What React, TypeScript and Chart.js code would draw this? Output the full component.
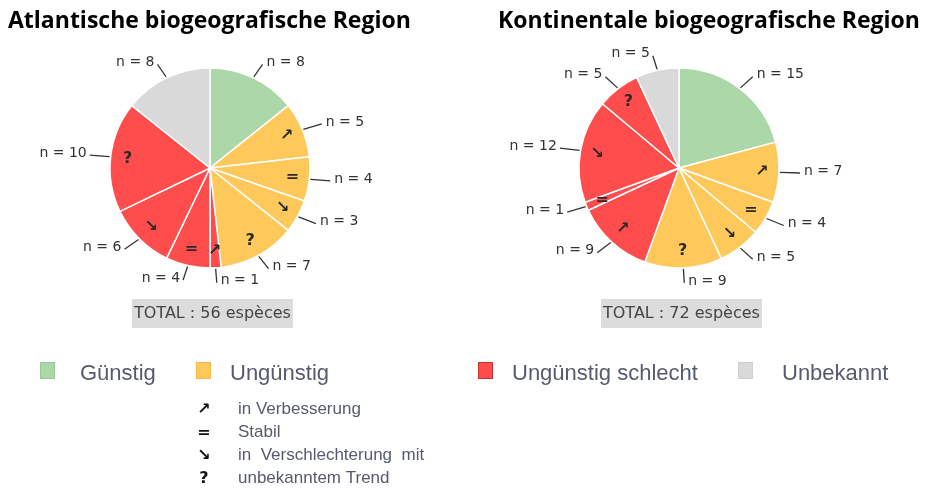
import React, { useEffect, useRef } from 'react';
import { Chart, registerables } from 'chart.js';
Chart.register(...registerables);

const W = 926;
const H = 490;

const sliceStatus = ['Günstig', 'Ungünstig', 'Ungünstig', 'Ungünstig', 'Ungünstig', 'Ungünstig schlecht', 'Ungünstig schlecht', 'Ungünstig schlecht', 'Ungünstig schlecht', 'Unbekannt'];
const sliceTrend = ['', '↗', '=', '↘', '?', '↗', '=', '↘', '?', ''];
const atlantischValues = [8, 5, 4, 3, 7, 1, 4, 6, 10, 8];
const kontinentalValues = [15, 7, 4, 5, 9, 9, 1, 12, 5, 5];
const legendLabels = ['Günstig', 'Ungünstig', 'Ungünstig schlecht', 'Unbekannt'];
const legendColors = ['#acd7a8', '#ffc85a', '#ff4c4c', '#d9d9d9'];
const legendBorders = ['#97c993', '#f3b94a', '#c83030', '#cfcfcf'];
const trendSymbols = ['↗', '=', '↘', '?'];
const trendTexts = ['in Verbesserung', 'Stabil', 'in  Verschlechterung  mit', 'unbekanntem Trend'];
const regionTitles = ['Atlantische biogeografische Region', 'Kontinentale biogeografische Region'];

const colorOf = (s: string) => legendColors[legendLabels.indexOf(s)];

function makePlugin(title: string, titleX: number, withLegend: boolean) {
  return {
    id: 'custom-' + titleX,
    afterDraw(chart: any) {
      const ctx: CanvasRenderingContext2D = chart.ctx;
      const meta = chart.getDatasetMeta(0);
      const values: number[] = chart.data.datasets[0].data;
      ctx.save();
      let cx = 0;
      meta.data.forEach((arc: any, i: number) => {
        const { x, y, startAngle, endAngle, outerRadius } = arc.getProps(['x', 'y', 'startAngle', 'endAngle', 'outerRadius'], true);
        cx = x;
        const mid = (startAngle + endAngle) / 2;
        const c = Math.cos(mid);
        const s = Math.sin(mid);
        if (sliceTrend[i]) {
          ctx.fillStyle = '#2a2a2a';
          ctx.font = 'bold 16px "DejaVu Sans"';
          ctx.textAlign = 'center';
          ctx.textBaseline = 'middle';
          ctx.fillText(sliceTrend[i], x + c * outerRadius * 0.83, y + s * outerRadius * 0.83);
        }
        const sx = x + c * (outerRadius + 1);
        const sy = y + s * (outerRadius + 1);
        const ex = x + c * (outerRadius + 21);
        const ey = y + s * (outerRadius + 15);
        ctx.strokeStyle = '#333';
        ctx.lineWidth = 1.3;
        ctx.beginPath();
        ctx.moveTo(sx, sy);
        ctx.lineTo(ex, ey);
        ctx.stroke();
        ctx.fillStyle = '#333';
        ctx.font = '14px "DejaVu Sans"';
        ctx.textBaseline = 'middle';
        if (c >= 0) {
          ctx.textAlign = 'left';
          ctx.fillText('n = ' + values[i], ex + 4, ey - 2);
        } else {
          ctx.textAlign = 'right';
          ctx.fillText('n = ' + values[i], ex - 3, ey - 2);
        }
      });
      ctx.fillStyle = '#000';
      ctx.font = 'bold 23px "Open Sans"';
      ctx.textAlign = 'left';
      ctx.textBaseline = 'alphabetic';
      ctx.fillText(title, titleX, 28);
      const total = values.reduce((a, b) => a + b, 0);
      const totalText = 'TOTAL : ' + total + ' espèces';
      ctx.font = '16px "DejaVu Sans"';
      const tw = ctx.measureText(totalText).width;
      ctx.fillStyle = '#dcdcdc';
      ctx.fillRect(cx - 78, 299, tw + 4, 29);
      ctx.fillStyle = '#444';
      ctx.textBaseline = 'middle';
      ctx.fillText(totalText, cx - 76, 314);

      if (withLegend) {
        const sqX = [40, 196, 478, 738];
        const txX = [80, 230, 512, 782];
        legendLabels.forEach((lab, i) => {
          ctx.fillStyle = legendColors[i];
          ctx.fillRect(sqX[i], 362, 15, 17);
          ctx.strokeStyle = legendBorders[i];
          ctx.lineWidth = 1;
          ctx.strokeRect(sqX[i] + 0.5, 362.5, 14, 16);
          ctx.fillStyle = '#555a70';
          ctx.font = '22px "Liberation Sans"';
          ctx.textAlign = 'left';
          ctx.textBaseline = 'alphabetic';
          ctx.fillText(lab, txX[i], 380);
        });
        trendTexts.forEach((t, i) => {
          const by = 414 + i * 23;
          ctx.fillStyle = '#111';
          ctx.font = 'bold 16px "DejaVu Sans"';
          ctx.textAlign = 'center';
          ctx.textBaseline = 'alphabetic';
          ctx.fillText(trendSymbols[i], 204, by);
          ctx.fillStyle = '#555a70';
          ctx.font = '17px "Liberation Sans"';
          ctx.textAlign = 'left';
          ctx.fillText(t, 238, by);
        });
      }
      ctx.restore();
    },
  };
}

function makeConfig(values: number[], cx: number, title: string, titleX: number, withLegend: boolean): any {
  const half = 100.75;
  return {
    type: 'pie',
    data: {
      labels: sliceStatus.map((s, i) => s + (sliceTrend[i] ? ' ' + sliceTrend[i] : '')),
      datasets: [
        {
          data: values,
          backgroundColor: sliceStatus.map(colorOf),
          borderColor: '#ffffff',
          borderWidth: 1.5,
        },
      ],
    },
    options: {
      responsive: false,
      animation: false,
      layout: {
        padding: { left: cx - half, right: W - cx - half, top: 168 - half, bottom: H - 168 - half },
      },
      plugins: { legend: { display: false }, tooltip: { enabled: false }, title: { display: false } },
    },
    plugins: [makePlugin(title, titleX, withLegend)],
  };
}

export default function App() {
  const leftRef = useRef<HTMLCanvasElement>(null);
  const rightRef = useRef<HTMLCanvasElement>(null);
  useEffect(() => {
    document.body.style.margin = '0';
    const a = new Chart(leftRef.current as HTMLCanvasElement, makeConfig(atlantischValues, 210, regionTitles[0], 8, true));
    const b = new Chart(rightRef.current as HTMLCanvasElement, makeConfig(kontinentalValues, 679, regionTitles[1], 498, false));
    return () => {
      a.destroy();
      b.destroy();
    };
  }, []);
  const style: React.CSSProperties = { position: 'absolute', left: 0, top: 0, width: W, height: H };
  return (
    <div style={{ position: 'fixed', left: 0, top: 0, width: W, height: H, background: '#fff' }}>
      <canvas ref={leftRef} width={W} height={H} style={style} />
      <canvas ref={rightRef} width={W} height={H} style={style} />
    </div>
  );
}
